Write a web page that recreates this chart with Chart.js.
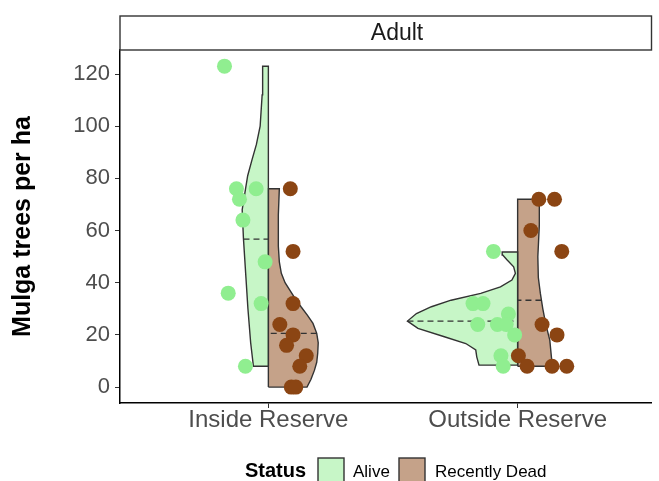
<!DOCTYPE html>
<html>
<head>
<meta charset="utf-8">
<script src="https://cdn.jsdelivr.net/npm/chart.js@4.4.0/dist/chart.umd.min.js"></script>
<style>html,body{margin:0;padding:0;background:#fff}canvas{display:block}</style>
</head>
<body>
<canvas id="c" width="659" height="481"></canvas>
<script>
// ---- data ----
const categories = ['Inside Reserve', 'Outside Reserve'];
const statuses = ['Alive', 'Recently Dead'];
const facetLabel = 'Adult';
const yTicks = [0, 20, 40, 60, 80, 100, 120];

// observed tree densities (trees per ha)
const insideAlive  = [123, 76, 76, 72, 64, 48, 36, 32, 8];
const insideDead   = [76, 52, 32, 24, 20, 16, 12, 8, 0, 0];
const outsideAlive = [52, 32, 32, 28, 24, 24, 24, 20, 12, 8];
const outsideDead  = [72, 72, 60, 52, 24, 20, 12, 8, 8, 8];

// horizontal jitter of each point (category units)
const insideAliveJitter  = [-0.176, -0.128, -0.049, -0.116, -0.102, -0.013, -0.161, -0.029, -0.092];
const insideDeadJitter   = [0.088, 0.099, 0.099, 0.046, 0.099, 0.073, 0.152, 0.126, 0.092, 0.110];
const outsideAliveJitter = [-0.097, -0.179, -0.139, -0.037, -0.160, -0.081, -0.046, -0.012, -0.067, -0.058];
const outsideDeadJitter  = [0.085, 0.148, 0.053, 0.177, 0.098, 0.158, 0.003, 0.038, 0.138, 0.197];

// violin density profiles: levels (trees per ha) and half-widths (category units)
const insideAliveLevels = [8, 17, 30, 42, 57, 68, 74, 81, 87, 93, 100, 112, 123];
const insideAliveDensity = [0.060, 0.071, 0.082, 0.090, 0.100, 0.105, 0.095, 0.083, 0.066, 0.048, 0.033, 0.025, 0.023];
const insideDeadLevels = [0, 3, 6.5, 9.5, 13, 17, 20.6, 24.4, 27.5, 30.8, 34, 37.2, 40, 43.6, 48, 54, 66, 76];
const insideDeadDensity = [0.155, 0.171, 0.185, 0.194, 0.198, 0.200, 0.194, 0.179, 0.157, 0.131, 0.107, 0.086, 0.067, 0.052, 0.044, 0.040, 0.040, 0.044];
const outsideAliveLevels = [8.4, 11.6, 14.2, 16.7, 19.3, 22.5, 25.3, 28.2, 30.8, 33.3, 35.9, 38.4, 41, 43.6, 46.1, 48.7, 50.6, 51.8];
const outsideAliveDensity = [0.155, 0.164, 0.168, 0.208, 0.294, 0.400, 0.442, 0.406, 0.346, 0.267, 0.148, 0.069, 0.023, 0.009, 0.016, 0.042, 0.060, 0.062];
const outsideDeadLevels = [8, 12, 18, 24, 30, 36, 42, 50, 62, 72];
const outsideDeadDensity = [0.139, 0.135, 0.129, 0.113, 0.101, 0.091, 0.083, 0.081, 0.087, 0.087];

// median (dashed) lines of each violin
const aliveMedians = [56.7, 25.3];
const deadMedians  = [20.6, 33.3];

// ---- styles ----
const FONT = '"Liberation Sans", Arial, Helvetica, sans-serif';
const aliveFill = 'rgba(144,238,144,0.5)';
const deadFill = 'rgba(139,69,19,0.5)';
const alivePoint = '#90EE90';
const deadPoint = '#8B4513';
const outline = '#333333';

// ---- helpers ----
function violinPoints(cat, levels, dens, side) {
  const pts = [{x: cat, y: levels[0]}];
  for (let i = 0; i < levels.length; i++) pts.push({x: cat + side * dens[i], y: levels[i]});
  pts.push({x: cat, y: levels[levels.length - 1]});
  pts.push({x: cat, y: levels[0]});
  return pts;
}
function widthAt(levels, dens, v) {
  for (let i = 0; i < levels.length - 1; i++) {
    if (v >= levels[i] && v <= levels[i + 1]) {
      const t = (v - levels[i]) / (levels[i + 1] - levels[i]);
      return dens[i] + t * (dens[i + 1] - dens[i]);
    }
  }
  return 0;
}
function medianLine(cat, levels, dens, m, side) {
  return [{x: cat + side * widthAt(levels, dens, m), y: m}, {x: cat, y: m}];
}
function pointsFor(cat, vals, jit) {
  return vals.map((v, i) => ({x: cat + jit[i], y: v}));
}

const violinDefs = [
  {cat: 1, levels: insideAliveLevels, dens: insideAliveDensity, side: -1, fill: aliveFill, med: aliveMedians[0]},
  {cat: 1, levels: insideDeadLevels, dens: insideDeadDensity, side: 1, fill: deadFill, med: deadMedians[0]},
  {cat: 2, levels: outsideAliveLevels, dens: outsideAliveDensity, side: -1, fill: aliveFill, med: aliveMedians[1]},
  {cat: 2, levels: outsideDeadLevels, dens: outsideDeadDensity, side: 1, fill: deadFill, med: deadMedians[1]},
];

const datasets = [
  {
    label: statuses[0],
    data: pointsFor(1, insideAlive, insideAliveJitter).concat(pointsFor(2, outsideAlive, outsideAliveJitter)),
    backgroundColor: alivePoint, borderColor: alivePoint, borderWidth: 0,
    pointRadius: 7.5, order: 0
  },
  {
    label: statuses[1],
    data: pointsFor(1, insideDead, insideDeadJitter).concat(pointsFor(2, outsideDead, outsideDeadJitter)),
    backgroundColor: deadPoint, borderColor: deadPoint, borderWidth: 0,
    pointRadius: 7.5, order: 0
  }
];
violinDefs.forEach(v => {
  datasets.push({
    label: 'median',
    data: medianLine(v.cat, v.levels, v.dens, v.med, v.side),
    showLine: true, borderColor: outline, borderWidth: 1.4, borderDash: [6, 4],
    pointRadius: 0, fill: false, order: 1
  });
});
violinDefs.forEach(v => {
  datasets.push({
    label: 'violin',
    data: violinPoints(v.cat, v.levels, v.dens, v.side),
    violinColor: v.fill,
    showLine: true, borderColor: outline, borderWidth: 1.4, tension: 0,
    pointRadius: 0, fill: false, order: 2
  });
});

const violinFill = {
  id: 'violinFill',
  beforeDatasetDraw(chart, args) {
    const ds = chart.data.datasets[args.index];
    if (!ds.violinColor) return;
    const pts = args.meta.data;
    const ctx = chart.ctx;
    ctx.save();
    ctx.beginPath();
    pts.forEach((p, i) => i ? ctx.lineTo(p.x, p.y) : ctx.moveTo(p.x, p.y));
    ctx.closePath();
    ctx.fillStyle = ds.violinColor;
    ctx.fill();
    ctx.restore();
  }
};

const stripAndLegend = {
  id: 'stripAndLegend',
  afterDraw(chart) {
    const ctx = chart.ctx;
    const a = chart.chartArea;
    ctx.save();
    // facet strip
    ctx.fillStyle = '#ffffff';
    ctx.fillRect(a.left, 16, a.right - a.left, a.top - 16);
    ctx.strokeStyle = outline;
    ctx.lineWidth = 1.4;
    ctx.strokeRect(a.left, 16, a.right - a.left, a.top - 16);
    ctx.fillStyle = '#1a1a1a';
    ctx.font = '23px ' + FONT;
    ctx.textAlign = 'center';
    ctx.textBaseline = 'middle';
    ctx.fillText(facetLabel, 397, 34);
    // legend
    ctx.textAlign = 'left';
    ctx.textBaseline = 'alphabetic';
    ctx.fillStyle = '#000';
    ctx.font = 'bold 20px ' + FONT;
    ctx.fillText('Status', 245, 477);
    const items = [
      {x: 318, fill: aliveFill, label: statuses[0], tx: 353},
      {x: 399, fill: deadFill, label: statuses[1], tx: 435},
    ];
    ctx.font = '17px ' + FONT;
    items.forEach(it => {
      ctx.fillStyle = it.fill;
      ctx.fillRect(it.x, 458, 26, 26);
      ctx.strokeStyle = outline;
      ctx.lineWidth = 1.4;
      ctx.strokeRect(it.x, 458, 26, 26);
      ctx.fillStyle = '#000';
      ctx.fillText(it.label, it.tx, 477);
    });
    ctx.restore();
  }
};

new Chart(document.getElementById('c'), {
  type: 'scatter',
  data: {datasets},
  plugins: [violinFill, stripAndLegend],
  options: {
    responsive: false,
    animation: false,
    devicePixelRatio: 1,
    layout: {padding: {top: 50, right: 1, left: 0, bottom: 0}},
    plugins: {legend: {display: false}, tooltip: {enabled: false}},
    scales: {
      x: {
        type: 'linear', min: 0.4048, max: 2.537,
        afterBuildTicks: ax => { ax.ticks = categories.map((c, i) => ({value: i + 1})); },
        afterFit: sc => { sc.height = 78; },
        ticks: {
          callback: (v, i) => categories[i],
          font: {family: FONT, size: 24, lineHeight: 1}, color: '#4d4d4d', padding: 0,
          maxRotation: 0, autoSkip: false
        },
        grid: {drawOnChartArea: false, drawTicks: true, tickLength: 5, color: outline},
        border: {display: true, color: '#000', width: 1.5}
      },
      y: {
        type: 'linear', min: -6.1, max: 129.2,
        afterBuildTicks: ax => { ax.ticks = yTicks.map(v => ({value: v})); },
        afterFit: sc => { sc.width = 120; },
        ticks: {font: {family: FONT, size: 22}, color: '#4d4d4d', padding: 5},
        grid: {drawOnChartArea: false, drawTicks: true, tickLength: 5, color: outline},
        border: {display: true, color: '#000', width: 1.5},
        title: {
          display: true, text: 'Mulga trees per ha', color: '#000',
          font: {family: FONT, size: 25, weight: 'bold'}, padding: {top: 8, bottom: 0}
        }
      }
    }
  }
});
</script>
</body>
</html>
